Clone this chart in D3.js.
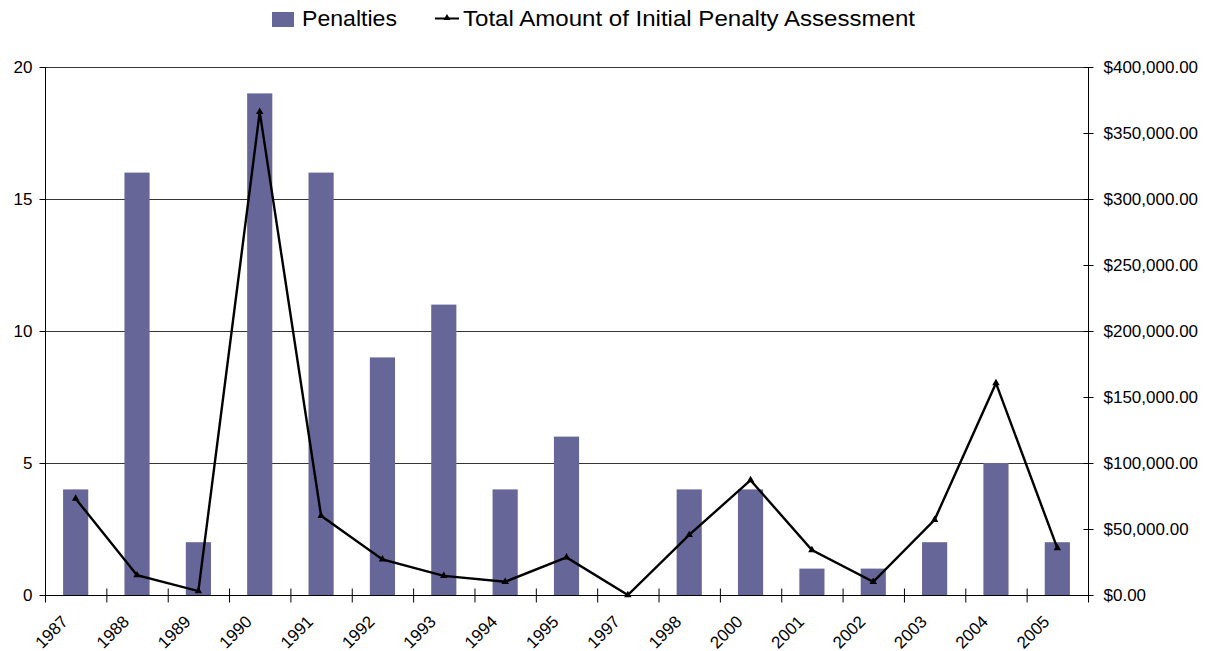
<!DOCTYPE html>
<html>
<head>
  <script src="https://cdn.jsdelivr.net/npm/d3@7"></script>
  <style>
    body { margin: 0; background: #fff; }
    text { font-family: "Liberation Sans", Arial, sans-serif; fill: #000; }
  </style>
</head>
<body>
  <div id="chart"></div>
  <script>
    const years = ["1987","1988","1989","1990","1991","1992","1993","1994","1995","1997","1998","2000","2001","2002","2003","2004","2005"]
    const penalties = [4, 16, 2, 19, 16, 9, 11, 4, 6, 0, 4, 4, 1, 1, 2, 5, 2]
    const amounts = [73000, 15000, 3000, 366000, 60000, 27000, 14500, 10000, 28500, 0, 45500, 87000, 34000, 10000, 57000, 160500, 35500]
    const leftTicks = [0, 5, 10, 15, 20]
    const rightTicks = [0, 50000, 100000, 150000, 200000, 250000, 300000, 350000, 400000]

    const width = 1209, height = 651
    const plotLeft = 45, plotRight = 1088, plotTop = 67, plotBottom = 595

    const svg = d3.select("#chart").append("svg")
      .attr("width", width).attr("height", height)

    const x = d3.scaleBand().domain(years).range([plotLeft, plotRight]).paddingInner(0.59).paddingOuter(0.295)
    const xb = d3.scaleBand().domain(years).range([plotLeft, plotRight])
    const y = d3.scaleLinear().domain([0, 20]).range([plotBottom, plotTop])
    const y2 = d3.scaleLinear().domain([0, 400000]).range([plotBottom, plotTop])

    // gridlines
    svg.append("g").selectAll("line").data(leftTicks.slice(1)).enter().append("line")
      .attr("x1", plotLeft).attr("x2", plotRight)
      .attr("y1", d => y(d) + 0.5).attr("y2", d => y(d) + 0.5)
      .attr("stroke", "#000").attr("stroke-width", 0.8)

    // bars
    svg.append("g").selectAll("rect").data(penalties).enter().append("rect")
      .attr("x", (d, i) => x(years[i]))
      .attr("width", x.bandwidth())
      .attr("y", d => y(d))
      .attr("height", d => plotBottom - y(d))
      .attr("fill", "#666699")

    // left axis
    const gl = svg.append("g").attr("transform", `translate(${plotLeft + 0.5},0)`)
      .call(d3.axisLeft(y).tickValues(leftTicks).tickSize(6).tickPadding(7))
    gl.selectAll("text").style("font-size", "17px")
    gl.select(".domain").attr("d", `M0,${plotTop}V${plotBottom}`)

    // right axis
    const gr = svg.append("g").attr("transform", `translate(${plotRight + 0.5},0)`)
      .call(d3.axisRight(y2).tickValues(rightTicks).tickSize(5).tickPadding(10)
        .tickFormat(d => "$" + d3.format(",.2f")(d)))
    gr.selectAll("text").style("font-size", "17px")
    gr.selectAll(".tick line").attr("x1", -5)
    gr.select(".domain").attr("d", `M0,${plotTop}V${plotBottom}`)

    // bottom axis
    const gb = svg.append("g").attr("transform", `translate(0,${plotBottom + 0.5})`)
    gb.append("line").attr("x1", plotLeft).attr("x2", plotRight).attr("stroke", "#000")
    gb.selectAll(".tk").data(years.concat(["end"])).enter().append("line")
      .attr("x1", (d, i) => plotLeft + i * xb.bandwidth() + 0.5)
      .attr("x2", (d, i) => plotLeft + i * xb.bandwidth() + 0.5)
      .attr("y1", -7).attr("y2", 7).attr("stroke", "#000")
    gb.selectAll("text").data(years).enter().append("text")
      .attr("transform", d => `translate(${xb(d) + xb.bandwidth() / 2 - 11},${23}) rotate(-45)`)
      .attr("text-anchor", "end")
      .attr("dy", "0.35em")
      .style("font-size", "17px")
      .text(d => d)

    // line
    const cx = (d, i) => xb(years[i]) + xb.bandwidth() / 2
    svg.append("path").datum(amounts)
      .attr("fill", "none").attr("stroke", "#000").attr("stroke-width", 2.4)
      .attr("stroke-linejoin", "miter")
      .attr("d", d3.line().x(cx).y(d => y2(d)))
    svg.append("g").selectAll("path").data(amounts).enter().append("path")
      .attr("d", d3.symbol().type(d3.symbolTriangle).size(24))
      .attr("transform", (d, i) => `translate(${cx(d, i)},${y2(d)})`)
      .attr("fill", "#000")

    // legend
    const lg = svg.append("g")
    lg.append("rect").attr("x", 272).attr("y", 12).attr("width", 22).attr("height", 15).attr("fill", "#666699")
    lg.append("text").attr("x", 302).attr("y", 26).style("font-size", "22px")
      .attr("textLength", 95).attr("lengthAdjust", "spacingAndGlyphs").text("Penalties")
    lg.append("line").attr("x1", 435).attr("x2", 459).attr("y1", 18.5).attr("y2", 18.5)
      .attr("stroke", "#000").attr("stroke-width", 2)
    lg.append("path").attr("d", d3.symbol().type(d3.symbolTriangle).size(22))
      .attr("transform", "translate(447,18)").attr("fill", "#000")
    lg.append("text").attr("x", 463).attr("y", 26).style("font-size", "22px")
      .attr("textLength", 452).attr("lengthAdjust", "spacingAndGlyphs")
      .text("Total Amount of Initial Penalty Assessment")
  </script>
</body>
</html>
